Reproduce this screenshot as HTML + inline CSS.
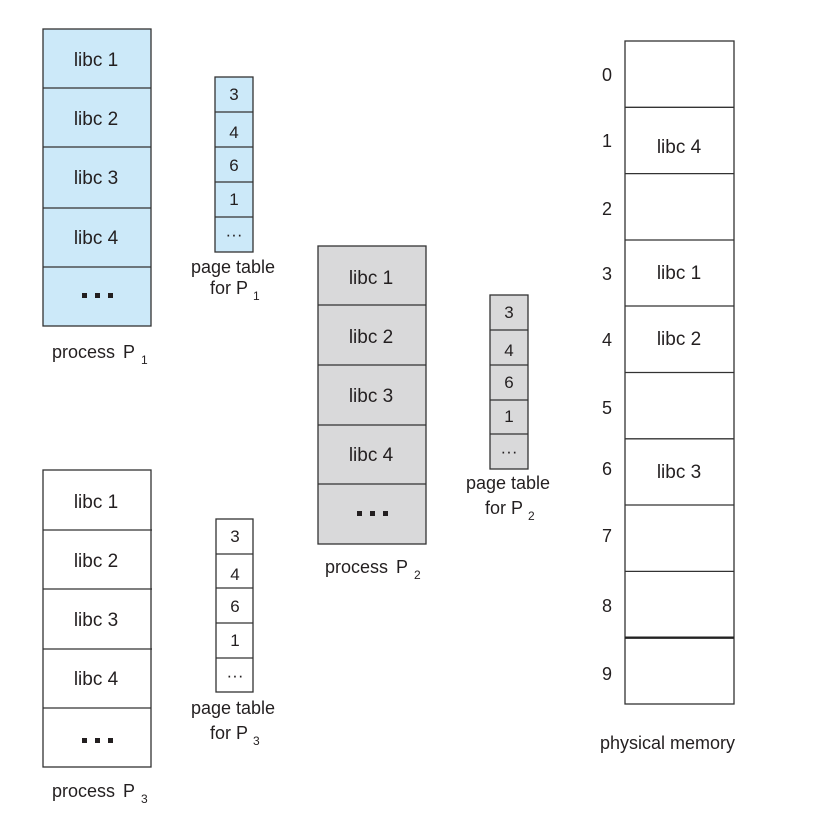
<!DOCTYPE html>
<html><head><meta charset="utf-8"><style>
html,body{margin:0;padding:0;background:#fff;}
svg text{font-family:"Liberation Sans",sans-serif;fill:#231f20;}
</style></head><body>
<svg width="826" height="826" xmlns="http://www.w3.org/2000/svg">
<g stroke="#333" stroke-width="1.3">
<rect x="43" y="29" width="108" height="297" fill="#cce9f9"/>
<line x1="43" y1="88" x2="151" y2="88"/><line x1="43" y1="147" x2="151" y2="147"/><line x1="43" y1="208" x2="151" y2="208"/><line x1="43" y1="267" x2="151" y2="267"/>
<rect x="215" y="77" width="38" height="175" fill="#cce9f9"/>
<line x1="215" y1="112" x2="253" y2="112"/><line x1="215" y1="147" x2="253" y2="147"/><line x1="215" y1="182" x2="253" y2="182"/><line x1="215" y1="217" x2="253" y2="217"/>
<rect x="318" y="246" width="108" height="298" fill="#d9d9da"/>
<line x1="318" y1="305" x2="426" y2="305"/><line x1="318" y1="365" x2="426" y2="365"/><line x1="318" y1="425" x2="426" y2="425"/><line x1="318" y1="484" x2="426" y2="484"/>
<rect x="490" y="295" width="38" height="174" fill="#d9d9da"/>
<line x1="490" y1="330" x2="528" y2="330"/><line x1="490" y1="365" x2="528" y2="365"/><line x1="490" y1="400" x2="528" y2="400"/><line x1="490" y1="434" x2="528" y2="434"/>
<rect x="43" y="470" width="108" height="297" fill="#fff"/>
<line x1="43" y1="530" x2="152" y2="530"/><line x1="43" y1="589" x2="152" y2="589"/><line x1="43" y1="649" x2="152" y2="649"/><line x1="43" y1="708" x2="151" y2="708"/>
<rect x="216" y="519" width="37" height="173" fill="#fff"/>
<line x1="216" y1="554" x2="253" y2="554"/><line x1="216" y1="588" x2="253" y2="588"/><line x1="216" y1="623" x2="253" y2="623"/><line x1="216" y1="658" x2="253" y2="658"/>
<rect x="625" y="41" width="109" height="663" fill="#fff"/>
<line x1="625" y1="107.3" x2="734" y2="107.3"/><line x1="625" y1="173.6" x2="734" y2="173.6"/><line x1="625" y1="240" x2="734" y2="240"/><line x1="625" y1="306" x2="734" y2="306"/><line x1="625" y1="372.5" x2="734" y2="372.5"/><line x1="625" y1="438.8" x2="734" y2="438.8"/><line x1="625" y1="505" x2="734" y2="505"/><line x1="625" y1="571.4" x2="734" y2="571.4"/>
<line x1="625" y1="637.7" x2="734" y2="637.7" stroke-width="2.4" stroke="#222"/>
</g>
<g fill="#231f20">
<rect x="82" y="293" width="5" height="5"/><rect x="95" y="293" width="5" height="5"/><rect x="108" y="293" width="5" height="5"/>
<rect x="357" y="511" width="5" height="5"/><rect x="370" y="511" width="5" height="5"/><rect x="383" y="511" width="5" height="5"/>
<rect x="82" y="738" width="5" height="5"/><rect x="95" y="738" width="5" height="5"/><rect x="108" y="738" width="5" height="5"/>
</g>
<g font-size="19" text-anchor="middle">
<text x="96" y="66">libc 1</text><text x="96" y="125">libc 2</text><text x="96" y="184">libc 3</text><text x="96" y="244">libc 4</text>
<text x="371" y="284">libc 1</text><text x="371" y="343">libc 2</text><text x="371" y="402">libc 3</text><text x="371" y="461">libc 4</text>
<text x="96" y="508">libc 1</text><text x="96" y="567">libc 2</text><text x="96" y="626">libc 3</text><text x="96" y="685">libc 4</text>
<text x="679" y="153">libc 4</text><text x="679" y="279">libc 1</text><text x="679" y="345">libc 2</text><text x="679" y="478">libc 3</text>
</g>
<g font-size="17" text-anchor="middle">
<text x="234" y="100">3</text><text x="234" y="138">4</text><text x="234" y="171">6</text><text x="234" y="205">1</text><text x="234" y="240">···</text>
<text x="509" y="318">3</text><text x="509" y="356">4</text><text x="509" y="388">6</text><text x="509" y="422">1</text><text x="509" y="457">···</text>
<text x="235" y="542">3</text><text x="235" y="580">4</text><text x="235" y="612">6</text><text x="235" y="646">1</text><text x="235" y="681">···</text>
</g>
<g font-size="18" text-anchor="middle">
<text x="607" y="81">0</text><text x="607" y="147">1</text><text x="607" y="215">2</text><text x="607" y="280">3</text><text x="607" y="346">4</text><text x="607" y="414">5</text><text x="607" y="475">6</text><text x="607" y="542">7</text><text x="607" y="612">8</text><text x="607" y="680">9</text>
</g>
<g font-size="18">
<text x="52" y="358">process<tspan dx="8">P</tspan><tspan font-size="12" dy="6" dx="6">1</tspan></text>
<text x="325" y="573">process<tspan dx="8">P</tspan><tspan font-size="12" dy="6" dx="6">2</tspan></text>
<text x="52" y="797">process<tspan dx="8">P</tspan><tspan font-size="12" dy="6" dx="6">3</tspan></text>
<text x="600" y="749">physical memory</text>
<text x="233" y="273" text-anchor="middle">page table</text>
<text x="210" y="294">for P<tspan font-size="12" dy="6" dx="5">1</tspan></text>
<text x="508" y="489" text-anchor="middle">page table</text>
<text x="485" y="514">for P<tspan font-size="12" dy="6" dx="5">2</tspan></text>
<text x="233" y="714" text-anchor="middle">page table</text>
<text x="210" y="739">for P<tspan font-size="12" dy="6" dx="5">3</tspan></text>
</g>
</svg>
</body></html>
